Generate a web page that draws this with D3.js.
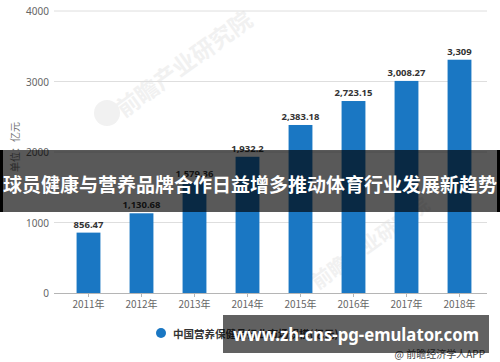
<!DOCTYPE html>
<html lang="zh">
<meta charset="utf-8">
<title>中国营养保健品行业市场规模</title>
<script src="https://d3js.org/d3.v7.min.js"></script>
<style>
body { margin: 0; background: #fff; }
svg { display: block; font-family: "Noto Sans CJK SC", "Noto Sans", sans-serif; }
.tick-label { fill: #666; font-size: 10px; }
.value-label { fill: #333; font-size: 9.5px; font-weight: bold; font-family: "Noto Sans", sans-serif; }
</style>
<body>
<div id="chart"></div>
<script>
// data
const years = ["2011年", "2012年", "2013年", "2014年", "2015年", "2016年", "2017年", "2018年"];
const values = [856.47, 1130.68, 1579.36, 1932.2, 2383.18, 2723.15, 3008.27, 3309];
const valueLabels = ["856.47", "1,130.68", "1,579.36", "1,932.2", "2,383.18", "2,723.15", "3,008.27", "3,309"];
const yTicks = [0, 1000, 2000, 3000, 4000];
const seriesName = "中国营养保健品行业市场规模(亿元)";
const bannerTitle = "球员健康与营养品牌合作日益增多推动体育行业发展新趋势";
const bannerUrl = "www.zh-cns-pg-emulator.com";

const W = 500, H = 362;
const svg = d3.select("#chart").append("svg")
  .attr("width", W).attr("height", H);

// scales
const x = d3.scaleBand()
  .domain(years)
  .range([62, 486])
  .paddingInner(0.55)
  .paddingOuter(0.275);

const y = d3.scaleLinear()
  .domain([0, 4000])
  .range([293, 11]);

// faint watermark
const wm = svg.append("g").attr("fill", "#f1f1f1");
wm.append("circle").attr("cx", 107).attr("cy", 113).attr("r", 13);
wm.append("text")
  .attr("transform", "translate(124,118) rotate(-36)")
  .attr("font-size", 23).attr("font-weight", "bold")
  .text("前瞻产业研究院");
wm.append("text")
  .attr("transform", "translate(318,290) rotate(-36)")
  .attr("font-size", 20).attr("font-weight", "bold")
  .text("前瞻产业研究院");

// grid lines
svg.append("g")
  .selectAll("line")
  .data(yTicks.filter(d => d > 0))
  .join("line")
    .attr("x1", 54).attr("x2", 487)
    .attr("y1", d => y(d)).attr("y2", d => y(d))
    .attr("stroke", "#dedede");

// y tick labels
svg.append("g")
  .selectAll("text")
  .data(yTicks)
  .join("text")
    .attr("class", "tick-label")
    .attr("x", 49).attr("y", d => y(d))
    .attr("text-anchor", "end")
    .attr("dominant-baseline", "central")
    .attr("font-family", "Noto Sans, sans-serif")
    .text(d => d);

// y axis unit
svg.append("text")
  .attr("transform", "translate(14,147) rotate(-90)")
  .attr("text-anchor", "middle")
  .attr("dominant-baseline", "central")
  .attr("fill", "#777")
  .attr("font-size", 10)
  .text("单位：亿元");

// x axis
const xAxis = svg.append("g")
  .attr("transform", "translate(0," + y(0) + ")")
  .call(d3.axisBottom(x).tickSize(4).tickSizeOuter(0));
xAxis.select(".domain").attr("d", "M54,0.5H487").attr("stroke", "#b5b5b5");
xAxis.selectAll(".tick line").attr("stroke", "#b5b5b5");
xAxis.selectAll(".tick text")
  .attr("class", "tick-label")
  .attr("dy", "0.5em")
  .attr("y", 10)
  .style("font-family", "Noto Sans CJK SC, sans-serif");

// bars
svg.append("g")
  .selectAll("rect")
  .data(values)
  .join("rect")
    .attr("x", (d, i) => x(years[i]))
    .attr("y", d => y(d))
    .attr("width", x.bandwidth())
    .attr("height", d => y(0) - y(d))
    .attr("fill", "#1a77c3");

// value labels
svg.append("g")
  .selectAll("text")
  .data(values)
  .join("text")
    .attr("class", "value-label")
    .attr("x", (d, i) => x(years[i]) + x.bandwidth() / 2)
    .attr("y", d => y(d) - 5)
    .attr("text-anchor", "middle")
    .text((d, i) => valueLabels[i]);

// legend
svg.append("circle")
  .attr("cx", 161).attr("cy", 333).attr("r", 5)
  .attr("fill", "#1a77c3");
svg.append("text")
  .attr("x", 173).attr("y", 333)
  .attr("dominant-baseline", "central")
  .attr("fill", "#333").attr("font-size", 10.5).attr("font-weight", "bold")
  .text(seriesName);

// source
svg.append("text")
  .attr("x", 485).attr("y", 353)
  .attr("text-anchor", "end")
  .attr("dominant-baseline", "central")
  .attr("fill", "#444").attr("font-size", 10)
  .text("@ 前瞻经济学人APP");

// title banner overlay
svg.append("rect")
  .attr("x", 0).attr("y", 150).attr("width", W).attr("height", 62)
  .attr("fill", "rgba(0,0,0,0.65)");
svg.append("rect").attr("x", 0).attr("y", 150).attr("width", 3).attr("height", 62).attr("fill", "#000");
svg.append("rect").attr("x", 497).attr("y", 150).attr("width", 3).attr("height", 62).attr("fill", "#000");
svg.append("text")
  .attr("x", 3).attr("y", 183)
  .attr("dominant-baseline", "central")
  .attr("fill", "#fff").attr("font-size", 19).attr("font-weight", "bold")
  .attr("textLength", 494).attr("lengthAdjust", "spacingAndGlyphs")
  .text(bannerTitle);

// url banner overlay
svg.append("rect")
  .attr("x", 223).attr("y", 315).attr("width", 266).attr("height", 38)
  .attr("fill", "rgba(0,0,0,0.62)");
svg.append("text")
  .attr("x", 233).attr("y", 334)
  .attr("dominant-baseline", "central")
  .attr("fill", "#fff").attr("font-size", 17).attr("font-weight", "bold")
  .attr("font-family", "Noto Sans, sans-serif")
  .attr("textLength", 246).attr("lengthAdjust", "spacingAndGlyphs")
  .text(bannerUrl);
</script>
</body>
</html>
